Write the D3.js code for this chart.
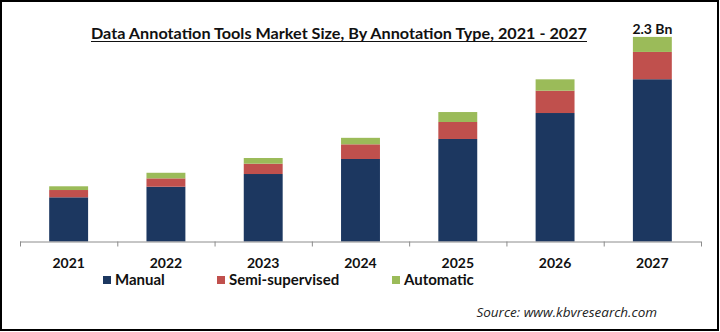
<!DOCTYPE html>
<html>
<head>
<meta charset="utf-8">
<script src="https://cdn.jsdelivr.net/npm/d3@7"></script>
<style>
  html, body { margin: 0; padding: 0; background: #fff; }
  svg { display: block; }
</style>
</head>
<body>
<svg id="d3svg" width="720" height="332"></svg>
<script>
const years = ["2021", "2022", "2023", "2024", "2025", "2026", "2027"];
const manual = [0.497, 0.616, 0.759, 0.928, 1.153, 1.445, 1.825];
const semiSupervised = [0.082, 0.094, 0.116, 0.165, 0.191, 0.251, 0.307];
const automatic = [0.042, 0.063, 0.064, 0.073, 0.112, 0.128, 0.169];
const seriesNames = ["Manual", "Semi-supervised", "Automatic"];
const seriesColors = ["#1c3760", "#c0504d", "#9bbb59"];
const titleText = "Data Annotation Tools Market Size, By Annotation Type, 2021 - 2027";
const topLabel = "2.3 Bn";
const sourceText = "Source: www.kbvresearch.com";

const width = 720;
const height = 332;
const baseline = 241.5;

const svg = d3.select("#d3svg");

// frame
svg.append("rect")
  .attr("x", 1).attr("y", 1)
  .attr("width", 717).attr("height", 329)
  .attr("fill", "none")
  .attr("stroke", "#000")
  .attr("stroke-width", 2);

const rows = years.map((y, i) => ({year: y, Manual: manual[i], "Semi-supervised": semiSupervised[i], Automatic: automatic[i]}));
const stacked = d3.stack().keys(seriesNames)(rows);

const x = d3.scaleBand()
  .domain(years)
  .range([20, 701])
  .paddingInner(0.6)
  .paddingOuter(0.3);

const y = d3.scaleLinear()
  .domain([0, 2.3])
  .range([baseline, 37]);

const color = d3.scaleOrdinal().domain(seriesNames).range(seriesColors);

// bars
svg.append("g")
  .selectAll("g")
  .data(stacked)
  .enter().append("g")
  .attr("fill", d => color(d.key))
  .selectAll("rect")
  .data(d => d)
  .enter().append("rect")
  .attr("x", d => x(d.data.year))
  .attr("y", d => y(d[1]))
  .attr("width", x.bandwidth())
  .attr("height", d => y(d[0]) - y(d[1]));

// axis line and ticks at band edges
const step = x.step();
const x0 = x.range()[0];
const axis = svg.append("g").attr("stroke", "#8c8c8c").attr("stroke-width", 1);
axis.append("line")
  .attr("x1", x0).attr("x2", x.range()[1])
  .attr("y1", baseline + 0.5).attr("y2", baseline + 0.5);
axis.selectAll("line.tick")
  .data(d3.range(years.length + 1))
  .enter().append("line")
  .attr("class", "tick")
  .attr("x1", i => x0 + i * step + 0.5)
  .attr("x2", i => x0 + i * step + 0.5)
  .attr("y1", baseline)
  .attr("y2", baseline + 5);

// year labels
svg.append("g")
  .selectAll("text")
  .data(years)
  .enter().append("text")
  .attr("x", d => x(d) + x.bandwidth() / 2)
  .attr("y", 267.5)
  .attr("text-anchor", "middle")
  .attr("font-family", "Lato, 'Open Sans', sans-serif")
  .attr("font-weight", "bold")
  .attr("font-size", 14)
  .attr("fill", "#111")
  .text(d => d);

// total label on last bar
const last = years[years.length - 1];
svg.append("text")
  .attr("x", x(last) + x.bandwidth() / 2)
  .attr("y", 34)
  .attr("text-anchor", "middle")
  .attr("font-family", "Lato, 'Open Sans', sans-serif")
  .attr("font-weight", "bold")
  .attr("font-size", 14)
  .attr("fill", "#111")
  .text(topLabel);

// title
svg.append("text")
  .attr("x", 339)
  .attr("y", 39)
  .attr("text-anchor", "middle")
  .attr("font-family", "Lato, 'Open Sans', sans-serif")
  .attr("font-weight", "bold")
  .attr("font-size", 15)
  .attr("fill", "#111")
  .attr("textLength", 496)
  .attr("lengthAdjust", "spacingAndGlyphs")
  .text(titleText);
svg.append("line")
  .attr("x1", 91).attr("x2", 587)
  .attr("y1", 41.5).attr("y2", 41.5)
  .attr("stroke", "#111")
  .attr("stroke-width", 1);

// legend
const legendX = [103, 217, 392];
const legend = svg.append("g")
  .selectAll("g")
  .data(seriesNames)
  .enter().append("g")
  .attr("transform", (d, i) => `translate(${legendX[i]},276)`);
legend.append("rect")
  .attr("width", 8).attr("height", 8)
  .attr("fill", d => color(d));
legend.append("text")
  .attr("x", 12)
  .attr("y", 8.5)
  .attr("font-family", "Lato, 'Open Sans', sans-serif")
  .attr("font-weight", "bold")
  .attr("font-size", 15)
  .attr("fill", "#111")
  .text(d => d);

// source
svg.append("text")
  .attr("x", 657)
  .attr("y", 317)
  .attr("text-anchor", "end")
  .attr("font-family", "'Open Sans', Lato, sans-serif")
  .attr("font-style", "italic")
  .attr("font-size", 13.5)
  .attr("fill", "#222")
  .text(sourceText);
</script>
</body>
</html>
